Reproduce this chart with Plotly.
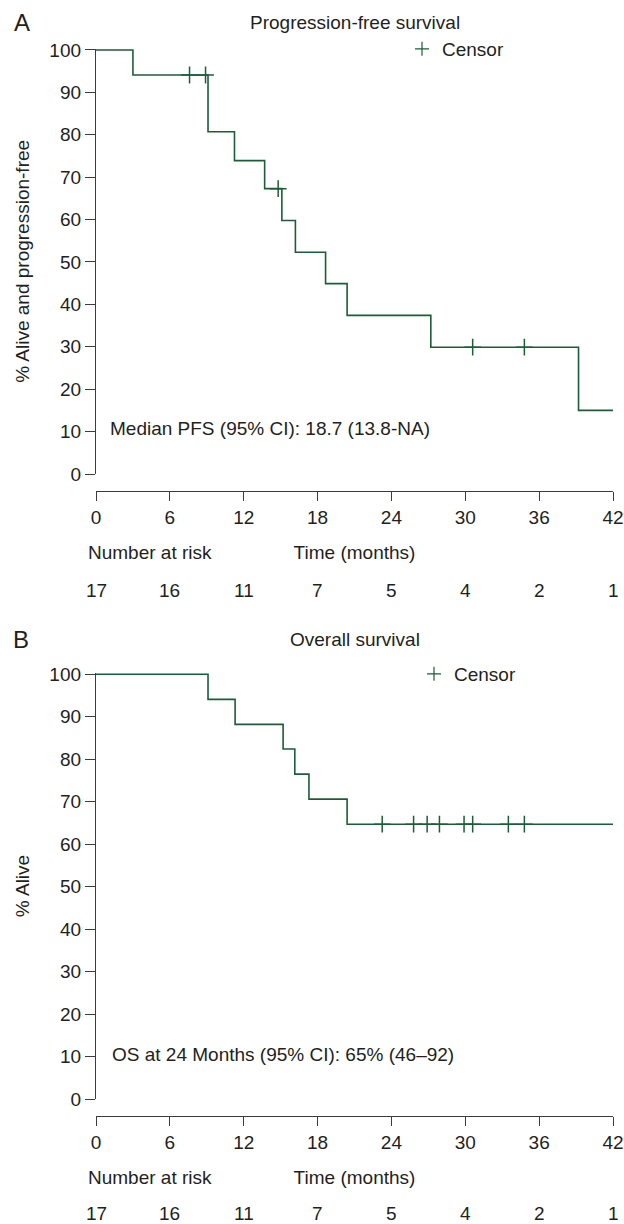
import plotly.graph_objects as go

# ---------------- data ----------------
time_ticks = [0, 6, 12, 18, 24, 30, 36, 42]
y_ticks = [0, 10, 20, 30, 40, 50, 60, 70, 80, 90, 100]

# Progression-free survival
pfs_event_times = [3.0, 9.1, 11.25, 13.7, 15.1, 16.2, 18.65, 20.4, 27.2, 39.2]
pfs_levels = [94.1, 80.7, 73.9, 67.3, 59.8, 52.3, 44.9, 37.4, 29.9, 15.0]
pfs_censor_times = [7.6, 8.9, 14.8, 30.6, 34.8]
pfs_censor_levels = [94.1, 94.1, 67.3, 29.9, 29.9]
pfs_at_risk = [17, 16, 11, 7, 5, 4, 2, 1]

# Overall survival
os_event_times = [9.1, 11.3, 15.2, 16.15, 17.3, 20.4]
os_levels = [94.1, 88.2, 82.4, 76.5, 70.6, 64.7]
os_censor_times = [23.25, 25.8, 26.9, 27.9, 29.9, 30.6, 33.5, 34.8]
os_censor_levels = [64.7, 64.7, 64.7, 64.7, 64.7, 64.7, 64.7, 64.7]
os_at_risk = [17, 16, 11, 7, 5, 4, 2, 1]

follow_up_end = 42
start_level = 100

# ---------------- styling ----------------
W, H = 624, 1224
FONT = "Liberation Sans, Arial, Helvetica, sans-serif"
TXT = "#231f20"
AXC = "#3c3c3c"
GREEN = "#1d5c38"
FS = 19


def fx(px):
    return px / W


def fy(px):
    return 1 - px / H


fig = go.Figure()


def add_panel(n, ev_t, ev_l, c_t, c_l, legend_name):
    xa = "x" if n == 1 else "x2"
    ya = "y" if n == 1 else "y2"
    xs = [0] + ev_t + [follow_up_end]
    ys = [start_level] + ev_l + [ev_l[-1]]
    fig.add_trace(go.Scatter(
        x=xs, y=ys, mode="lines", line=dict(shape="hv", color=GREEN, width=1.6),
        xaxis=xa, yaxis=ya, showlegend=False, hoverinfo="skip"))
    fig.add_trace(go.Scatter(
        x=c_t, y=c_l, mode="markers", name="Censor",
        marker=dict(symbol="cross-thin", size=12, color=GREEN,
                    line=dict(width=1.5, color=GREEN)),
        xaxis=xa, yaxis=ya, showlegend=False))
    # legend key for the censor marks (legend entry only)
    fig.add_trace(go.Scatter(
        x=[None], y=[None], mode="markers", name="Censor",
        marker=dict(symbol="cross-thin", size=10, color=GREEN,
                    line=dict(width=1.2, color=GREEN)),
        xaxis=xa, yaxis=ya, legend=legend_name, showlegend=True))


add_panel(1, pfs_event_times, pfs_levels, pfs_censor_times, pfs_censor_levels, "legend")
add_panel(2, os_event_times, os_levels, os_censor_times, os_censor_levels, "legend2")

xdom = [fx(96), fx(613)]

common_x = dict(
    domain=xdom, range=[0, 42], tickvals=time_ticks, ticks="outside", ticklen=9,
    tickwidth=1.3, tickcolor=AXC, showline=True, linecolor=AXC, linewidth=1.3,
    showgrid=False, zeroline=False, tickfont=dict(size=FS, color=TXT, family=FONT),
    anchor="free", fixedrange=True, automargin=False,
    title=dict(text="Time (months)", font=dict(size=FS, color=TXT, family=FONT), standoff=18),
)
common_y = dict(
    range=[0, 100.3], tickvals=y_ticks, ticks="outside", ticklen=10, tickwidth=1.3,
    tickcolor=AXC, showline=True, linecolor=AXC, linewidth=1.3, showgrid=False,
    zeroline=False, tickfont=dict(size=FS, color=TXT, family=FONT), fixedrange=True,
    automargin=False,
)

fig.update_layout(
    width=W, height=H, margin=dict(l=0, r=0, t=0, b=0, autoexpand=False),
    paper_bgcolor="white", plot_bgcolor="white",
    font=dict(family=FONT, size=FS, color=TXT),
    xaxis=dict(common_x, position=fy(491)),
    yaxis=dict(common_y, domain=[fy(474), fy(48.7)], anchor="x",
               title=dict(text="% Alive and progression-free",
                          font=dict(size=FS, color=TXT, family=FONT), standoff=14)),
    xaxis2=dict(common_x, position=fy(1116)),
    yaxis2=dict(common_y, domain=[fy(1099), fy(673.0)], anchor="x2",
                title=dict(text="% Alive", font=dict(size=FS, color=TXT, family=FONT),
                           standoff=14)),
    legend=dict(x=fx(402), y=fy(49), xanchor="left", yanchor="middle",
                bgcolor="rgba(0,0,0,0)", itemwidth=30,
                font=dict(size=FS, color=TXT, family=FONT)),
    legend2=dict(x=fx(414), y=fy(674), xanchor="left", yanchor="middle",
                 bgcolor="rgba(0,0,0,0)", itemwidth=30,
                 font=dict(size=FS, color=TXT, family=FONT)),
    showlegend=True,
)


def txt(text, x, y, xref="paper", xanchor="center", size=FS):
    return dict(text=text, x=x, y=y, xref=xref, yref="paper", xanchor=xanchor,
                yanchor="middle", showarrow=False, font=dict(size=size, color=TXT))


ann = []
# panel letters and titles
ann.append(txt("A", fx(22), fy(22), size=24))
ann.append(txt("B", fx(21), fy(639), size=24))
ann.append(txt("Progression-free survival", fx(355), fy(22)))
ann.append(txt("Overall survival", fx(355), fy(639)))
# in-plot statistics
ann.append(txt("Median PFS (95% CI): 18.7 (13.8-NA)", fx(108), fy(429), xanchor="left"))
ann.append(txt("OS at 24 Months (95% CI): 65% (46–92)", fx(110), fy(1054), xanchor="left"))
# number at risk
for ypx in (553, 1177):
    ann.append(txt("Number at risk", fx(150), fy(ypx)))
for t, n in zip(time_ticks, pfs_at_risk):
    ann.append(txt(str(n), t, fy(590), xref="x"))
for t, n in zip(time_ticks, os_at_risk):
    ann.append(txt(str(n), t, fy(1213), xref="x2"))

fig.update_layout(annotations=ann)
fig.write_html("out.html", config={"displayModeBar": False},
               post_script="document.body.style.margin='0px';")
